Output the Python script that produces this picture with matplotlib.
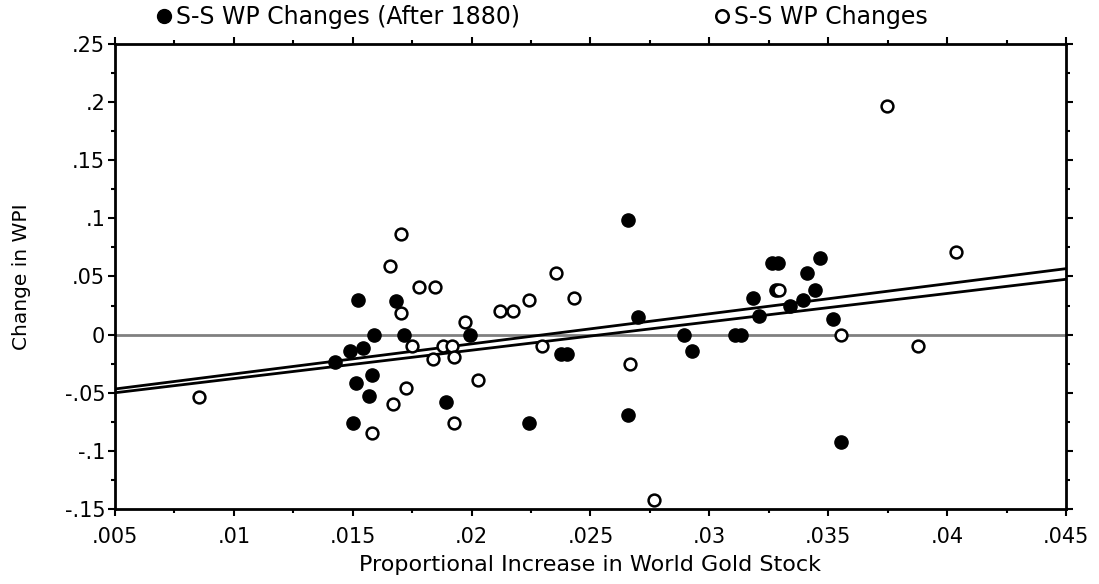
import numpy as np
import matplotlib
matplotlib.use("Agg")
import matplotlib.pyplot as plt
from matplotlib.ticker import MultipleLocator, FuncFormatter
from matplotlib.lines import Line2D

# S-S WP changes after 1880 (filled markers)
after_x = [0.01424, 0.01490, 0.01500, 0.01512, 0.01523, 0.01545, 0.01570, 0.01580,
           0.01591, 0.01682, 0.01714, 0.01894, 0.01994, 0.02241, 0.02376, 0.02400,
           0.02658, 0.02658, 0.02701, 0.02893, 0.02925, 0.03108, 0.03133, 0.03184,
           0.03207, 0.03265, 0.03287, 0.03280, 0.03341, 0.03395, 0.03409, 0.03444,
           0.03464, 0.03520, 0.03554]
after_y = [-0.0233, -0.0141, -0.0758, -0.0414, 0.0298, -0.0118, -0.0528, -0.0348,
           0.0, 0.0292, 0.0, -0.0577, 0.0, -0.0758, -0.0164, -0.0164,
           0.0983, -0.0692, 0.0154, 0.0, -0.0141, 0.0, 0.0, 0.0318,
           0.0157, 0.0616, 0.0616, 0.0386, 0.0249, 0.0295, 0.0527, 0.0386,
           0.0662, 0.0134, -0.0921]

# S-S WP changes (open markers)
all_x = [0.00852, 0.01658, 0.01703, 0.01702, 0.01780, 0.01847, 0.01972, 0.01748,
         0.01881, 0.01919, 0.01836, 0.01927, 0.01726, 0.02026, 0.01669, 0.01926,
         0.01580, 0.02118, 0.02174, 0.02241, 0.02353, 0.02432, 0.02297, 0.02668,
         0.02768, 0.03293, 0.03554, 0.03746, 0.04036, 0.03879]
all_y = [-0.0534, 0.0593, 0.0868, 0.0183, 0.0407, 0.0407, 0.0111, -0.0095,
         -0.0098, -0.0098, -0.0210, -0.0190, -0.0459, -0.0390, -0.0597, -0.0758,
         -0.0849, 0.0203, 0.0203, 0.0295, 0.0527, 0.0318, -0.0095, -0.0256,
         -0.1423, 0.0386, 0.0, 0.1969, 0.0708, -0.0095]

# fitted lines (intercept, slope)
fit_upper = (-0.0597, 2.5875)
fit_lower = (-0.0622, 2.44)

plt.rcParams['font.family'] = ['DejaVu Sans']

def fmt(v, pos):
    if abs(v) < 1e-12:
        return '0'
    s = ('%.3f' % v).rstrip('0')
    return s.replace('0.', '.')

fig = plt.figure(figsize=(10.99, 5.84), dpi=100)
ax = fig.add_axes([0.1046, 0.1284, 0.8654, 0.7963])

ax.axhline(0, color='#808080', lw=2, zorder=1)

xs = np.array([0.005, 0.045])
for b0, b1 in (fit_upper, fit_lower):
    ax.plot(xs, b0 + b1 * xs, color='black', lw=2, zorder=2)

ax.plot(after_x, after_y, 'o', ms=9.5, color='black', zorder=3)
ax.plot(all_x, all_y, 'o', ms=8.5, mfc='white', mec='black', mew=1.8, zorder=4)

ax.set_xlim(0.005, 0.045)
ax.set_ylim(-0.15, 0.25)
ax.xaxis.set_major_locator(MultipleLocator(0.005))
ax.xaxis.set_minor_locator(MultipleLocator(0.0025))
ax.yaxis.set_major_locator(MultipleLocator(0.05))
ax.yaxis.set_minor_locator(MultipleLocator(0.025))
ax.xaxis.set_major_formatter(FuncFormatter(fmt))
ax.yaxis.set_major_formatter(FuncFormatter(fmt))
ax.tick_params(which='both', top=True, right=True, direction='out',
               width=1.5, labelsize=15)
ax.tick_params(axis='x', pad=8)
ax.tick_params(axis='y', pad=2)
ax.tick_params(which='major', length=5)
ax.tick_params(which='minor', length=3)
for s in ax.spines.values():
    s.set_linewidth(2)

ax.set_xlabel('Proportional Increase in World Gold Stock', fontsize=16, labelpad=6)
ax.set_ylabel('Change in WPI', fontsize=14.5)
ax.yaxis.set_label_coords(-0.088, 0.5)

h_after = Line2D([], [], ls='none', marker='o', ms=10, color='black')
h_all = Line2D([], [], ls='none', marker='o', ms=9, mfc='white', mec='black', mew=1.8)
for h, lab, x0 in ((h_after, 'S-S WP Changes (After 1880)', 0.1383),
                   (h_all, 'S-S WP Changes', 0.646)):
    fig.legend([h], [lab], loc='center left', bbox_to_anchor=(x0, 0.971),
               frameon=False, fontsize=17, borderpad=0, borderaxespad=0,
               handletextpad=0.0, handlelength=1.0)

fig.savefig('out.png', dpi=100)
